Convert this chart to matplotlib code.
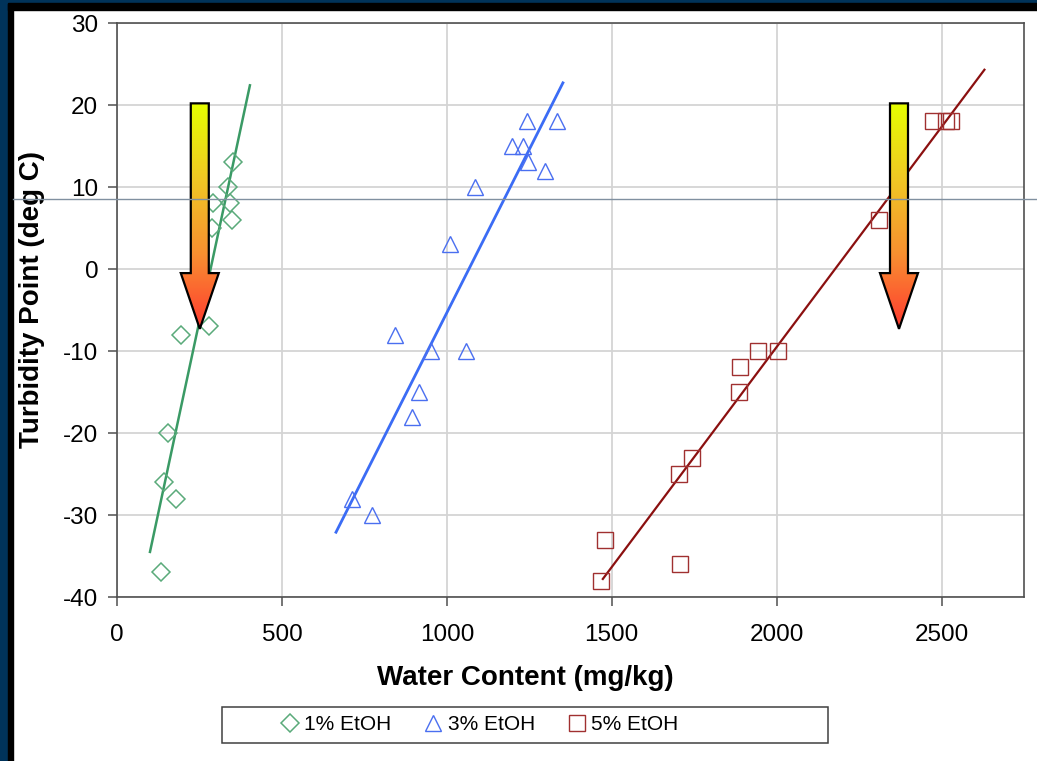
import numpy as np
import matplotlib
matplotlib.use("Agg")
import matplotlib.pyplot as plt
from matplotlib.patches import Polygon, Rectangle
from matplotlib.lines import Line2D
from matplotlib.colors import LinearSegmentedColormap

plt.rcParams['font.family'] = ['Liberation Sans', 'DejaVu Sans']
plt.rcParams['axes.unicode_minus'] = False

# 1% EtOH
etoh1_x = [352, 336, 291, 342, 348, 288, 279, 194, 155, 142, 179, 133]
etoh1_y = [13, 10, 8, 8, 6, 5, -7, -8, -20, -26, -28, -37]
etoh1_fit_x = [100, 403]
etoh1_fit_y = [-34.5, 22.4]

# 3% EtOH
etoh3_x = [1242, 1333, 1197, 1230, 1245, 1297, 1085, 1009, 842, 952, 1058, 915, 894, 712, 773]
etoh3_y = [18, 18, 15, 15, 13, 12, 10, 3, -8, -10, -10, -15, -18, -28, -30]
etoh3_fit_x = [664, 1352]
etoh3_fit_y = [-32.1, 22.7]

# 5% EtOH
etoh5_x = [2473, 2515, 2530, 2309, 1942, 2003, 1888, 1885, 1742, 1703, 1479, 1706, 1467]
etoh5_y = [18, 18, 18, 6, -10, -10, -12, -15, -23, -25, -33, -36, -38]
etoh5_fit_x = [1473, 2630]
etoh5_fit_y = [-37.8, 24.3]

x_ticks = [0, 500, 1000, 1500, 2000, 2500]
y_ticks = [-40, -30, -20, -10, 0, 10, 20, 30]

# arrow centres (data x) - both arrows share the same vertical extent
arrow_x = [251, 2371]

W, H = 1037, 761
fig = plt.figure(figsize=(W / 100, H / 100), dpi=100)
fig.patch.set_facecolor("white")

# slide frame: navy band + black strip on the left and top
fig.patches.append(Rectangle((0, 0), 8 / W, 1, transform=fig.transFigure, color="#00335a", zorder=0))
fig.patches.append(Rectangle((8 / W, 0), 5 / W, 1 - 3 / H, transform=fig.transFigure, color="black", zorder=0))
fig.patches.append(Rectangle((0, 1 - 3 / H), 1, 3 / H, transform=fig.transFigure, color="#00335a", zorder=0))
fig.patches.append(Rectangle((8 / W, 1 - 10 / H), 1, 7 / H, transform=fig.transFigure, color="black", zorder=0))

ax = fig.add_axes([117 / W, 1 - 597 / H, (1024 - 117) / W, (597 - 23) / H])

ax.plot(etoh1_fit_x, etoh1_fit_y, color="#3a9a65", lw=1.8, zorder=3)
ax.plot(etoh3_fit_x, etoh3_fit_y, color="#3b6cf5", lw=2.0, zorder=3)
ax.plot(etoh5_fit_x, etoh5_fit_y, color="#8b1010", lw=1.6, zorder=3)

ax.plot(etoh1_x, etoh1_y, "D", ms=9.5, mfc="none", mec="#5aaa7a", mew=1.1, zorder=4, label="1% EtOH")
ax.plot(etoh3_x, etoh3_y, "^", ms=12, mfc="none", mec="#4a6ff0", mew=1.0, zorder=4, label="3% EtOH")
ax.plot(etoh5_x, etoh5_y, "s", ms=12, mfc="none", mec="#a03030", mew=1.0, zorder=4, label="5% EtOH")

ax.set_xlim(0, 2750)
ax.set_ylim(-40, 30)
ax.set_xticks(x_ticks)
ax.set_yticks(y_ticks)
ax.grid(True, color="#d4d4d4", lw=1.3)
ax.set_axisbelow(True)
for s in ax.spines.values():
    s.set_color("#505050")
    s.set_linewidth(1.2)
ax.tick_params(direction="out", length=6.5, width=1.1, color="#505050", labelsize=17.5)
ax.tick_params(axis="y", pad=7)
ax.tick_params(axis="x", pad=13)

# gradient arrows
cmap = LinearSegmentedColormap.from_list("arr", ["#e6ff00", "#f0c824", "#f89030", "#ff3a30"])
grad = np.linspace(0, 1, 256).reshape(-1, 1)
top, base, tip = 20.2, -0.5, -7.3
shaft, head = 27.3, 57.6
for cx in arrow_x:
    pts = [(cx - shaft, top), (cx + shaft, top), (cx + shaft, base), (cx + head, base),
           (cx, tip), (cx - head, base), (cx - shaft, base)]
    poly = Polygon(pts, closed=True, fc="none", ec="black", lw=1.6, zorder=6)
    ax.add_patch(poly)
    im = ax.imshow(grad, cmap=cmap, aspect="auto", extent=(cx - head, cx + head, tip, top),
                   origin="upper", zorder=5)
    im.set_clip_path(poly)
ax.set_xlim(0, 2750)
ax.set_ylim(-40, 30)

fig.text(525 / W, 1 - 678 / H, "Water Content (mg/kg)", ha="center", va="center",
         fontsize=20, fontweight="bold")
fig.text(32 / W, 1 - 300 / H, "Turbidity Point (deg C)", ha="center", va="center",
         rotation=90, fontsize=20, fontweight="bold")

# stray rule across the slide
fig.lines.append(Line2D([13 / W, 1], [1 - 199 / H, 1 - 199 / H], transform=fig.transFigure,
                        color="#8090a0", lw=1.0, zorder=10))

# legend box
fig.patches.append(Rectangle((222 / W, 1 - 743 / H), (828 - 222) / W, 36 / H, transform=fig.transFigure,
                             fc="white", ec="#404040", lw=1.1, zorder=1))
leg = fig.legend(loc="center", bbox_to_anchor=(480 / W, 1 - 725 / H), ncol=3, frameon=False,
                 fontsize=15, handlelength=0.8, handletextpad=0.3, columnspacing=1.6, markerscale=0.95)

fig.savefig("out.png", dpi=100)
